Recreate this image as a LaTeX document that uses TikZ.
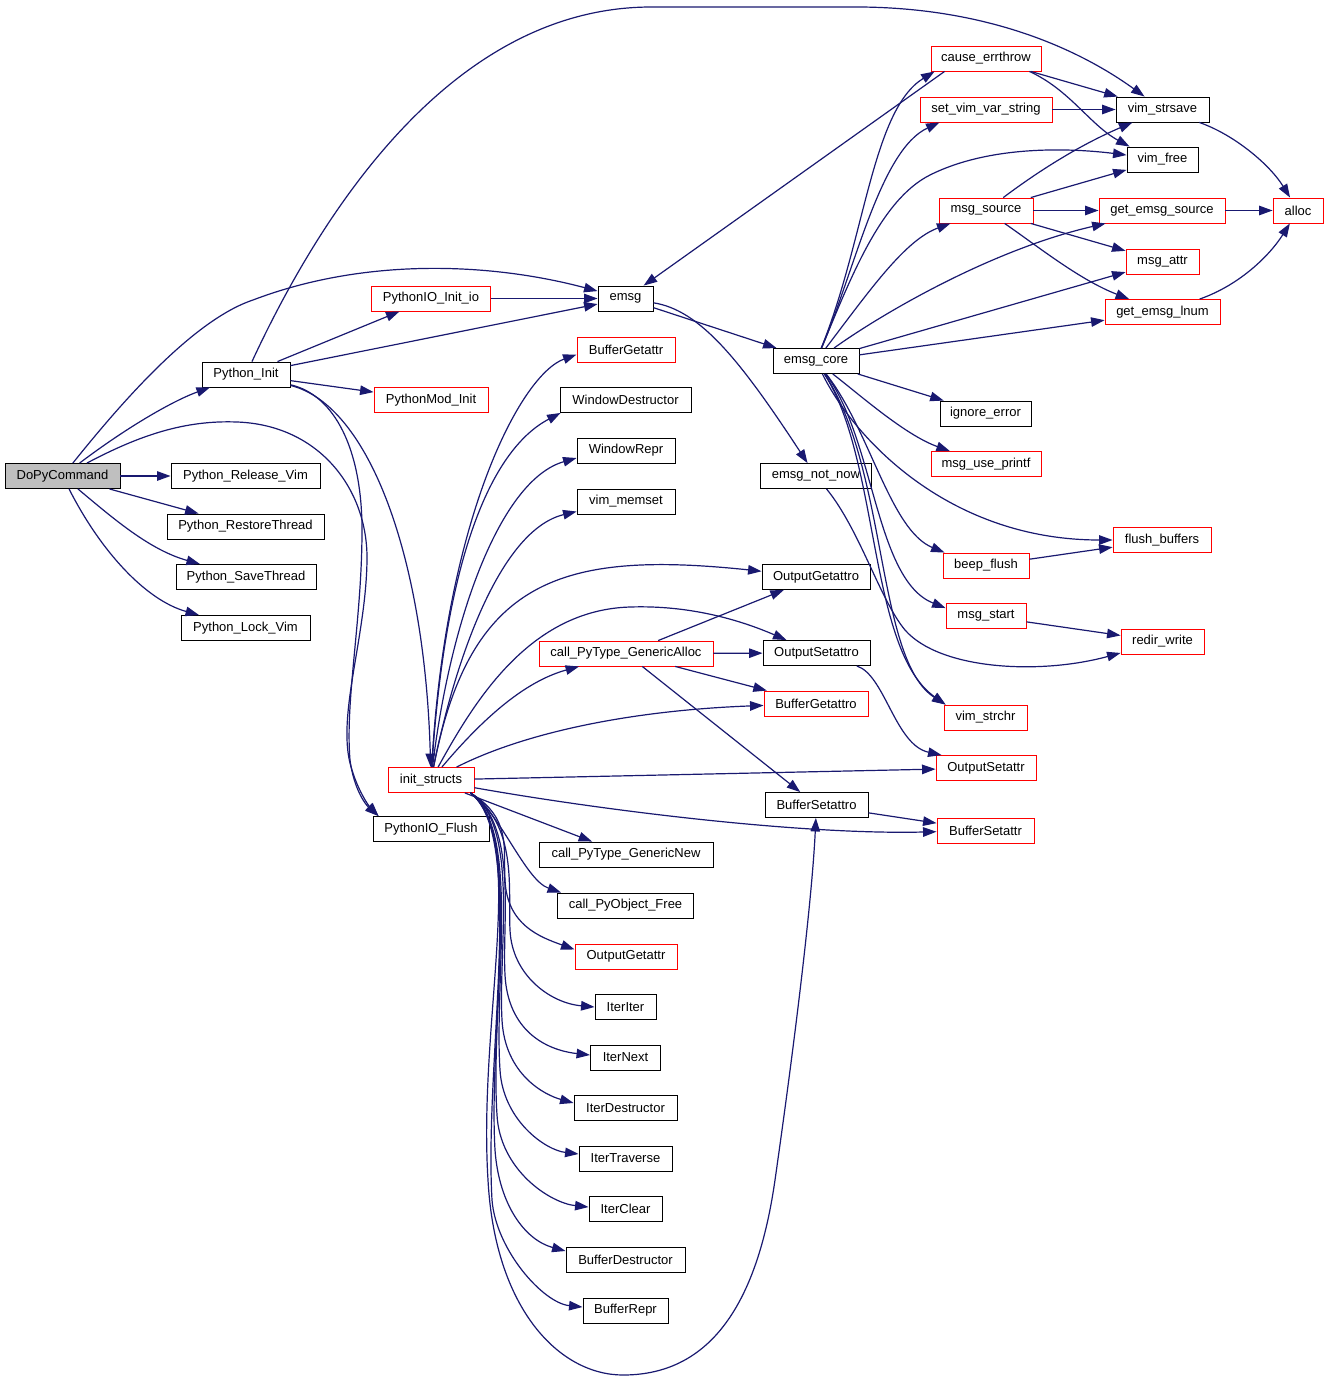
\documentclass[tikz,border=0pt]{standalone}
\usepackage{fontspec}
\setmainfont{Liberation Sans}
\usetikzlibrary{arrows.meta,calc}
\definecolor{edgec}{RGB}{25,25,112}
\definecolor{grayfill}{RGB}{191,191,191}
\begin{document}
\begin{tikzpicture}[x=1pt,y=-1pt,
  nd/.style={draw=black, line width=0.9pt, fill=white, inner sep=0pt, minimum height=25pt, font=\fontsize{13}{15}\selectfont, anchor=center},
  rd/.style={nd, draw=red},
  e/.style={draw=edgec, line width=1.2pt, -{Triangle[length=13.5pt,width=9.5pt]}}]
\fill[white] (0,0) rectangle (1328,1381);
\useasboundingbox (0,0) rectangle (1328,1381);
% nodes
\node[nd, fill=grayfill, minimum width=115pt] (dopy) at (62.5,476) {DoPyCommand};
\node[nd, minimum width=88pt] (pyinit) at (246,374.5) {Python\_Init};
\node[nd, minimum width=149pt] (relvim) at (245.5,476) {Python\_Release\_Vim};
\node[nd, minimum width=157pt] (restore) at (245.5,526.5) {Python\_RestoreThread};
\node[nd, minimum width=140pt] (save) at (246,577) {Python\_SaveThread};
\node[nd, minimum width=129pt] (lock) at (245.5,628) {Python\_Lock\_Vim};
\node[rd, minimum width=119pt] (initio) at (431,298.5) {PythonIO\_Init\_io};
\node[rd, minimum width=114pt] (modinit) at (431,400) {PythonMod\_Init};
\node[nd, minimum width=116pt] (flush) at (431,829) {PythonIO\_Flush};
\node[rd, minimum width=86pt] (inits) at (431,780) {init\_structs};
\node[nd, minimum width=55pt] (emsg) at (625.5,298.5) {emsg};
\node[rd, minimum width=98pt] (bgetattr) at (626,349.5) {BufferGetattr};
\node[nd, minimum width=131pt] (wdestr) at (625.5,400) {WindowDestructor};
\node[nd, minimum width=98pt] (wrepr) at (626,450.5) {WindowRepr};
\node[nd, minimum width=98pt] (memset) at (626,501.5) {vim\_memset};
\node[rd, minimum width=174pt] (galloc) at (626,653.5) {call\_PyType\_GenericAlloc};
\node[nd, minimum width=174pt] (gnew) at (626,854.5) {call\_PyType\_GenericNew};
\node[nd, minimum width=136pt] (pyfree) at (625.5,905.5) {call\_PyObject\_Free};
\node[rd, minimum width=102pt] (ogetattr) at (626,956.5) {OutputGetattr};
\node[nd, minimum width=61pt] (iiter) at (625.5,1007) {IterIter};
\node[nd, minimum width=70pt] (inext) at (625.5,1057.5) {IterNext};
\node[nd, minimum width=103pt] (idestr) at (625.5,1108) {IterDestructor};
\node[nd, minimum width=93pt] (itrav) at (625.5,1158.5) {IterTraverse};
\node[nd, minimum width=73pt] (iclear) at (625.5,1209) {IterClear};
\node[nd, minimum width=119pt] (bdestr) at (625.5,1260) {BufferDestructor};
\node[nd, minimum width=85pt] (brepr) at (625.5,1310.5) {BufferRepr};
\node[nd, minimum width=86pt] (ecore) at (816,361) {emsg\_core};
\node[nd, minimum width=111pt] (enotnow) at (816,476) {emsg\_not\_now};
\node[nd, minimum width=108pt] (ogetattro) at (816,577) {OutputGetattro};
\node[nd, minimum width=107pt] (osetattro) at (816.5,653) {OutputSetattro};
\node[rd, minimum width=104pt] (bgetattro) at (816,703.5) {BufferGetattro};
\node[nd, minimum width=103pt] (bsetattro) at (816.5,805) {BufferSetattro};
\node[rd, minimum width=110pt] (errthrow) at (986,58.5) {cause\_errthrow};
\node[rd, minimum width=132pt] (setvar) at (986,109.5) {set\_vim\_var\_string};
\node[nd, minimum width=93pt] (strsave) at (1162.5,109.5) {vim\_strsave};
\node[nd, minimum width=71pt] (vimfree) at (1162.5,159.5) {vim\_free};
\node[rd, minimum width=94pt] (msgsrc) at (986,210.5) {msg\_source};
\node[rd, minimum width=126pt] (getsrc) at (1162,210.5) {get\_emsg\_source};
\node[rd, minimum width=50pt] (alloc) at (1298,210.5) {alloc};
\node[rd, minimum width=73pt] (msgattr) at (1162.5,261.5) {msg\_attr};
\node[rd, minimum width=115pt] (getlnum) at (1162.5,312) {get\_emsg\_lnum};
\node[nd, minimum width=91pt] (ignerr) at (985.5,413.5) {ignore\_error};
\node[rd, minimum width=110pt] (printf) at (986,464) {msg\_use\_printf};
\node[rd, minimum width=98pt] (flushbuf) at (1162,540) {flush\_buffers};
\node[rd, minimum width=86pt] (beep) at (986,565.5) {beep\_flush};
\node[rd, minimum width=80pt] (msgstart) at (986,616) {msg\_start};
\node[rd, minimum width=83pt] (redir) at (1162.5,641.5) {redir\_write};
\node[rd, minimum width=83pt] (strchr) at (985.5,717.5) {vim\_strchr};
\node[rd, minimum width=100pt] (osetattr) at (986,768) {OutputSetattr};
\node[rd, minimum width=97pt] (bsetattr) at (985.5,830.5) {BufferSetattr};
% DoPyCommand
\draw[e] (dopy) -- (relvim);
\draw[e] (dopy) -- (restore);
\draw[e] (dopy) .. controls (130,425) and (175,400) .. (pyinit);
\draw[e] (dopy) .. controls (115,520) and (150,550) .. (save);
\draw[e] (dopy) .. controls (100,550) and (145,600) .. (lock);
\draw[e] (dopy) .. controls (121,403) and (193,320) .. (253,300) .. controls (363,258) and (488,262) .. (emsg);
\draw[e] (dopy) .. controls (140,435) and (185,420) .. (237,422) .. controls (320,425) and (368,490) .. (367,560) .. controls (366,640) and (335,720) .. (352,770) .. controls (358,790) and (368,805) .. ($(flush.north west)+(6,0)$);
% Python_Init
\draw[e] (pyinit) .. controls (335,395) and (362,450) .. (362,530) .. controls (362,620) and (345,700) .. (350,760) .. controls (354,790) and (366,805) .. ($(flush.north west)+(6,0)$);
\draw[e] (pyinit) .. controls (370,405) and (425,560) .. (inits);
\draw[e] (pyinit) .. controls (320,215) and (450,8) .. (650,7) -- (860,7) .. controls (990,8) and (1080,50) .. (strsave);
\draw[e] (pyinit) -- (initio);
\draw[e] (pyinit) -- (emsg);
\draw[e] (pyinit) -- (modinit);
\draw[e] (initio) -- (emsg);
% emsg
\draw[e] (emsg) -- (ecore);
\draw[e] (emsg) .. controls (700,310) and (740,360) .. (enotnow);
\draw[e] ($(errthrow.south west)+(14,0)$) -- (emsg);
% right area
\draw[e] (errthrow) -- (strsave);
\draw[e] ($(errthrow.south east)+(-12,0)$) .. controls (1070,90) and (1090,125) .. ($(vimfree.north west)+(3,0)$);
\draw[e] (setvar) -- (strsave);
\draw[e] (strsave) .. controls (1235,135) and (1270,165) .. (alloc);
\draw[e] (msgsrc) .. controls (1040,170) and (1080,145) .. (strsave);
\draw[e] (msgsrc) -- (vimfree);
\draw[e] (msgsrc) -- (getsrc);
\draw[e] (getsrc) -- (alloc);
\draw[e] (msgsrc) -- (msgattr);
\draw[e] (msgsrc) .. controls (1040,248) and (1080,280) .. (getlnum);
\draw[e] (getlnum) .. controls (1240,285) and (1270,255) .. (alloc);
% emsg_core
\draw[e] (ecore) .. controls (865,240) and (872,110) .. ($(errthrow.south west)+(4,0)$);
\draw[e] (ecore) .. controls (855,270) and (880,150) .. ($(setvar.south west)+(20,0)$);
\draw[e] (ecore) .. controls (850,280) and (880,200) .. (930,175) .. controls (990,145) and (1070,148) .. (vimfree);
\draw[e] (ecore) .. controls (870,290) and (905,240) .. (msgsrc);
\draw[e] (ecore) .. controls (880,315) and (990,250) .. (getsrc);
\draw[e] (ecore) -- (msgattr);
\draw[e] (ecore) -- (getlnum);
\draw[e] (ecore) -- (ignerr);
\draw[e] (ecore) .. controls (860,395) and (905,435) .. (printf);
\draw[e] (ecore) .. controls (855,440) and (950,540) .. (flushbuf);
\draw[e] (ecore) .. controls (870,430) and (890,530) .. ($(beep.north west)+(2,0)$);
\draw[e] (ecore) .. controls (875,440) and (875,580) .. ($(msgstart.north west)+(0,5)$);
\draw[e] (ecore) .. controls (880,460) and (868,650) .. ($(strchr.north west)+(2,0)$);
\draw[e] (ecore) .. controls (888,470) and (876,660) .. ($(strchr.north west)+(2,0)$);
\draw[e] (enotnow) .. controls (860,530) and (880,600) .. (905,630) .. controls (940,670) and (1040,675) .. (redir);
\draw[e] (beep) -- (flushbuf);
\draw[e] (msgstart) -- (redir);
% call_PyType_GenericAlloc
\draw[e] (galloc) -- (ogetattro);
\draw[e] (galloc) -- (osetattro);
\draw[e] (galloc) -- (bgetattro);
\draw[e] (galloc) -- (bsetattro);
\draw[e] (osetattro) .. controls (885,675) and (895,745) .. ($(osetattr.north west)+(6,0)$);
\draw[e] (bsetattro) -- (bsetattr);
% init_structs upward
\draw[e] (inits) .. controls (445,520) and (520,375) .. ($(bgetattr.west)+(0,5)$);
\draw[e] (inits) .. controls (445,560) and (490,450) .. ($(wdestr.south west)+(1,0)$);
\draw[e] (inits) .. controls (450,620) and (500,480) .. ($(wrepr.west)+(0,7.5)$);
\draw[e] (inits) .. controls (455,660) and (500,530) .. ($(memset.west)+(0,10)$);
\draw[e] (inits) .. controls (470,580) and (560,550) .. (ogetattro);
\draw[e] (inits) .. controls (475,700) and (530,610) .. (630,607) .. controls (690,605) and (740,620) .. (osetattro);
\draw[e] (inits) .. controls (490,710) and (530,680) .. (galloc);
\draw[e] (inits) .. controls (530,730) and (640,710) .. (bgetattro);
\draw[e] (inits) -- (osetattr);
\draw[e] (inits) .. controls (600,810) and (800,835) .. (bsetattr);
\draw[e] (inits) -- (gnew);
% init_structs downward fan
\coordinate (S) at ($(inits.south east)+(-4,0)$);
\draw[e] (S) .. controls (500,812) and (525,880) .. ($(pyfree.north west)+(4,0)$);
\draw[e] (S) .. controls (512,818) and (503,850) .. (505,880) .. controls (507,925) and (540,937) .. ($(ogetattr.west)+(0,-7)$);
\draw[e] (S) .. controls (518,825) and (508,890) .. (510,930) .. controls (512,975) and (550,1003) .. (iiter.west);
\draw[e] (S) .. controls (518,825) and (502,920) .. (505,975) .. controls (508,1030) and (545,1050) .. ($(inext.west)+(0,-2.5)$);
\draw[e] (S) .. controls (520,825) and (498,950) .. (502,1020) .. controls (505,1075) and (545,1095) .. ($(idestr.west)+(0,-5)$);
\draw[e] (S) .. controls (520,828) and (494,980) .. (500,1070) .. controls (503,1120) and (545,1150) .. ($(itrav.west)+(0,-4.5)$);
\draw[e] (S) .. controls (522,830) and (490,1010) .. (497,1115) .. controls (500,1170) and (550,1203) .. ($(iclear.west)+(0,-2)$);
\draw[e] (S) .. controls (524,832) and (488,1030) .. (495,1150) .. controls (499,1205) and (525,1240) .. ($(bdestr.west)+(0,-9)$);
\draw[e] (S) .. controls (526,835) and (484,1060) .. (492,1200) .. controls (496,1250) and (543,1303) .. ($(brepr.west)+(0,-3.5)$);
\draw[e] (S) .. controls (528,838) and (478,1020) .. (488,1180) .. controls (495,1310) and (560,1375) .. (623,1375) .. controls (700,1375) and (755,1320) .. (775,1180) .. controls (795,1040) and (812,900) .. (bsetattro);
\end{tikzpicture}
\end{document}
